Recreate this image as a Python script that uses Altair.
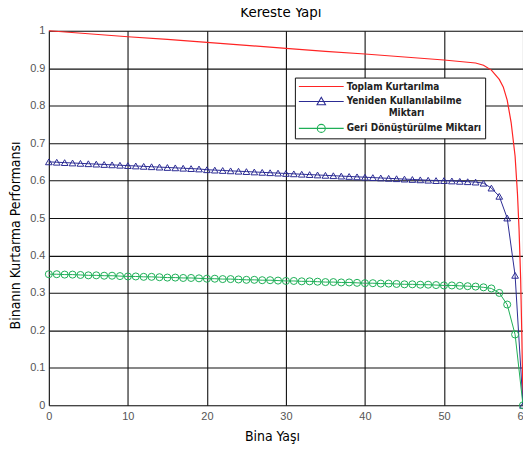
import altair as alt
import pandas as pd

# ---- data ----
years = list(range(0, 61))

reuse = [0.650, 0.649, 0.648, 0.647, 0.646, 0.645, 0.644, 0.643, 0.642, 0.641,
         0.640, 0.639, 0.638, 0.637, 0.636, 0.635, 0.634, 0.633, 0.632, 0.631,
         0.629, 0.628, 0.627, 0.626, 0.625, 0.624, 0.623, 0.622, 0.621, 0.620,
         0.619, 0.618, 0.617, 0.616, 0.615, 0.614, 0.613, 0.612, 0.611, 0.610,
         0.609, 0.608, 0.607, 0.606, 0.605, 0.604, 0.603, 0.602, 0.601, 0.600,
         0.600, 0.599, 0.598, 0.597, 0.596, 0.593, 0.580, 0.558, 0.500, 0.347,
         0.000]

recycle = [0.350, 0.350, 0.349, 0.349, 0.348, 0.347, 0.347, 0.346, 0.346, 0.345,
           0.344, 0.344, 0.343, 0.343, 0.342, 0.341, 0.341, 0.340, 0.340, 0.339,
           0.338, 0.338, 0.337, 0.337, 0.336, 0.335, 0.335, 0.334, 0.334, 0.333,
           0.332, 0.332, 0.331, 0.331, 0.330, 0.329, 0.329, 0.328, 0.328, 0.327,
           0.326, 0.326, 0.325, 0.325, 0.324, 0.323, 0.323, 0.322, 0.322, 0.321,
           0.320, 0.320, 0.319, 0.318, 0.317, 0.315, 0.312, 0.300, 0.269, 0.189,
           0.000]

total_x = [0, 5, 10, 15, 20, 25, 30, 35, 40, 45, 50, 54, 55, 56, 57, 57.5, 58,
           58.5, 59, 59.3, 59.5, 59.7, 59.85, 60]
total_y = [1.0, 0.992, 0.984, 0.977, 0.969, 0.961, 0.953, 0.945, 0.938, 0.930,
           0.922, 0.914, 0.908, 0.895, 0.870, 0.850, 0.815, 0.755, 0.665, 0.565,
           0.470, 0.340, 0.190, 0.0]

series_names = ["Toplam Kurtarılma", "Yeniden Kullanılabilme Miktarı",
                "Geri Dönüştürülme Miktarı"]
colors = ["#ff2424", "#2c2c94", "#1faf57"]

x_ticks = [0, 10, 20, 30, 40, 50, 60]
y_ticks = [0, 0.1, 0.2, 0.3, 0.4, 0.5, 0.6, 0.7, 0.8, 0.9, 1.0]

df_total = pd.DataFrame({"x": total_x, "y": total_y})
df_reuse = pd.DataFrame({"x": years, "y": reuse})
df_recycle = pd.DataFrame({"x": years, "y": recycle})
df_legend = pd.DataFrame({"x": [0, 0, 0], "y": [0, 0, 0], "s": series_names})

# legend symbols: line sample with a marker in its middle (unit = 5px)
shape_paths = [
    "M-1,0L8,0",
    "M-1,0L8,0M3.5,-0.85L4.35,0.65L2.65,0.65Z",
    "M-1,0L8,0M4.3,0A0.8,0.8 0 1,1 2.7,0A0.8,0.8 0 1,1 4.3,0",
]

cond = "'Liberation Sans Narrow', 'DejaVu Sans Condensed', sans-serif"

xs = alt.Scale(domain=[0, 60], nice=False, zero=False)
ys = alt.Scale(domain=[0, 1], nice=False)

xaxis = alt.Axis(
    values=x_ticks, title="Bina Yaşı", grid=True, gridColor="#111",
    gridWidth=1.1, ticks=False, domain=False, labelFontSize=11,
    labelColor="#555", labelFont="Liberation Sans", labelPadding=5,
    labelFlush=False, titleFont=cond, titleFontSize=14, titleFontWeight="normal",
    titleX=224, titleY=31, titleAlign="center", titleBaseline="middle")
yaxis = alt.Axis(
    values=y_ticks, format="~g", title="Binanın Kurtarma Performansı", grid=True,
    gridColor="#111", gridWidth=1.1, ticks=False, domain=False,
    labelFontSize=11, labelColor="#555", labelFont="Liberation Sans",
    labelPadding=4, labelFlush=False, labelOverlap=False, titleFont=cond,
    titleFontSize=14, titleFontWeight="normal", titleX=-33, titleY=205,
    titleAngle=-90, titleAlign="center", titleBaseline="middle")

xenc = alt.X("x:Q", scale=xs, axis=xaxis)
yenc = alt.Y("y:Q", scale=ys, axis=yaxis)

line_total = alt.Chart(df_total).mark_line(color=colors[0], strokeWidth=1.2).encode(
    x=xenc, y=yenc)
line_reuse = alt.Chart(df_reuse).mark_line(color=colors[1], strokeWidth=1).encode(
    x=xenc, y=yenc)
pts_reuse = alt.Chart(df_reuse).mark_point(
    shape="triangle-up", filled=False, color=colors[1], size=45,
    strokeWidth=1, opacity=1).encode(x=xenc, y=yenc)
line_recycle = alt.Chart(df_recycle).mark_line(color=colors[2], strokeWidth=1).encode(
    x=xenc, y=yenc)
pts_recycle = alt.Chart(df_recycle).mark_point(
    shape="circle", filled=False, color=colors[2], size=50,
    strokeWidth=1, opacity=1).encode(x=xenc, y=yenc)

# blank (non-whitespace) characters so that the indent is neither trimmed nor collapsed
nb = "\u2800" * 6
label_expr = ("datum.label == 'Yeniden Kullanılabilme Miktarı' ? "
              "['Yeniden Kullanılabilme', '" + nb + "Miktarı'] : datum.label")

legend = alt.Legend(
    title=None, orient="none", legendX=247, legendY=47, direction="vertical",
    fillColor="white", strokeColor="#111", padding=3, cornerRadius=0,
    symbolSize=100, symbolStrokeWidth=1.1, symbolOpacity=1,
    symbolFillColor="transparent", labelOffset=37, labelFont=cond,
    labelFontSize=10, labelFontWeight="bold", labelColor="#222",
    labelLimit=300, labelExpr=label_expr, rowPadding=3)

legend_layer = alt.Chart(df_legend).mark_point(filled=False, opacity=0).encode(
    x=xenc, y=yenc,
    color=alt.Color("s:N", scale=alt.Scale(domain=series_names, range=colors),
                    legend=legend),
    shape=alt.Shape("s:N", scale=alt.Scale(domain=series_names, range=shape_paths),
                    legend=legend),
)

chart = alt.layer(
    line_total, line_reuse, line_recycle, pts_reuse, pts_recycle, legend_layer
).properties(
    width=476, height=376,
    autosize=alt.AutoSizeParams(type="none"),
    padding={"left": 41, "top": 22, "right": 0, "bottom": 39},
    title=alt.TitleParams("Kereste Yapı", font=cond, fontSize=15,
                          fontWeight="normal", anchor="middle", offset=5, dx=-5),
).configure_view(stroke="#111", strokeWidth=1.5).configure(background="white")

chart.save("out.html", embed_options={"renderer": "svg", "actions": False})
